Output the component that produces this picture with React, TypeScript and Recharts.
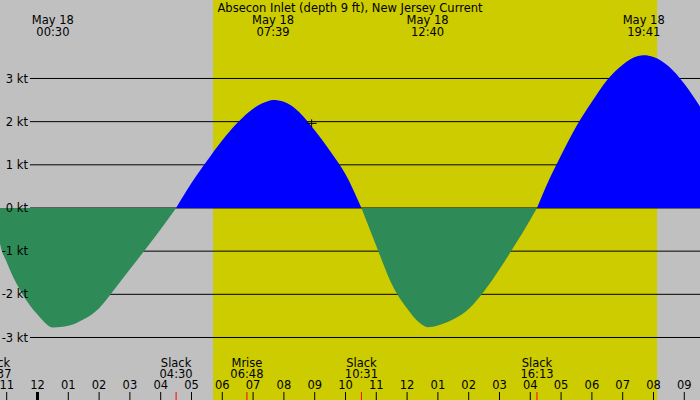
import { AreaChart, Area, XAxis, YAxis, ReferenceArea, ReferenceLine, ReferenceDot } from "recharts";

const TITLE = "Absecon Inlet (depth 9 ft), New Jersey Current";

// hours after midnight May 18 (negative = late May 17), current in knots
const hours = [
  -1.383, -1.2175, -1.0, -0.5, 0, 0.5, 1.0, 1.5, 2.0, 2.5, 3.0, 3.5, 4.0,
  4.5, 5.0, 5.5, 6.0, 6.5, 7.0, 7.5, 7.65, 8.0, 8.5, 9.0, 9.5, 10.0,
  10.517, 11.0, 11.5, 12.0, 12.5, 12.667, 13.0, 13.5, 14.0, 14.5, 15.0, 15.5, 16.0,
  16.217, 16.5, 17.0, 17.5, 18.0, 18.5, 19.0, 19.5, 19.683, 20.0, 20.5, 21.0, 21.51,
];
const knots = [
  0, -0.82, -1.25, -1.98, -2.47, -2.77, -2.73, -2.58, -2.32, -1.88, -1.42, -0.96, -0.49,
  0, 0.58, 1.09, 1.57, 1.98, 2.3, 2.48, 2.5, 2.46, 2.22, 1.8, 1.32, 0.78,
  0, -0.88, -1.76, -2.33, -2.71, -2.76, -2.72, -2.58, -2.34, -1.93, -1.42, -0.86, -0.27,
  0, 0.48, 1.22, 1.9, 2.46, 2.97, 3.32, 3.52, 3.54, 3.5, 3.28, 2.88, 2.35,
];

const hourTicks = [-1, 0, 1, 2, 3, 4, 5, 6, 7, 8, 9, 10, 11, 12, 13, 14, 15, 16, 17, 18, 19, 20, 21];
const hourLabels = ["11", "12", "01", "02", "03", "04", "05", "06", "07", "08", "09", "10", "11", "12", "01", "02", "03", "04", "05", "06", "07", "08", "09"];

const knotTicks = [3, 2, 1, 0, -1, -2, -3];

const eventTimes = [-1.383, 4.5, 6.8, 10.517, 16.217];
const eventNames = ["Slack", "Slack", "Mrise", "Slack", "Slack"];
const eventClock = ["22:37", "04:30", "06:48", "10:31", "16:13"];

const peakTimes = [0.5, 7.65, 12.667, 19.683];
const peakDates = ["May 18", "May 18", "May 18", "May 18"];
const peakClock = ["00:30", "07:39", "12:40", "19:41"];

const sunrise = 5.7;
const sunset = 20.117;
const nowHour = 8.9;
const nowKnots = 1.96;

const X_MIN = -1.2175;
const X_MAX = 21.51;
const Y_MIN = -4.448;
const Y_MAX = 4.818;
const GRID_START = -0.2435;
const FONT = 11.5;

const data = hours.map((h, i) => ({
  h,
  flood: knots[i] >= 0 ? knots[i] : null,
  ebb: knots[i] <= 0 ? knots[i] : null,
}));

function HourTick(props: any) {
  const { x, payload } = props;
  const i = hourTicks.indexOf(payload.value);
  return (
    <g>
      <line x1={x} x2={x} y1={392} y2={400} stroke="#000" strokeWidth={payload.value === 0 ? 3 : 1} />
      <text x={x} y={389} textAnchor="middle" fontSize={FONT} fill="#000">
        {hourLabels[i]}
      </text>
    </g>
  );
}

function EventTick(props: any) {
  const { x, payload } = props;
  const i = eventTimes.indexOf(payload.value);
  return (
    <g>
      <line x1={x} x2={x} y1={392} y2={400} stroke="#ff0000" strokeWidth={1} />
      <text x={x} y={366.5} textAnchor="middle" fontSize={FONT} fill="#000">
        {eventNames[i]}
      </text>
      <text x={x} y={378} textAnchor="middle" fontSize={FONT} fill="#000">
        {eventClock[i]}
      </text>
    </g>
  );
}

function PeakTick(props: any) {
  const { x, payload } = props;
  const i = peakTimes.indexOf(payload.value);
  return (
    <g>
      <text x={x} y={24} textAnchor="middle" fontSize={FONT} fill="#000">
        {peakDates[i]}
      </text>
      <text x={x} y={36} textAnchor="middle" fontSize={FONT} fill="#000">
        {peakClock[i]}
      </text>
    </g>
  );
}

function NowMark(props: any) {
  const { cx, cy } = props;
  return (
    <g>
      <line x1={cx - 5} x2={cx + 5} y1={cy} y2={cy} stroke="#000" />
      <line x1={cx} x2={cx} y1={cy - 4} y2={cy + 4} stroke="#000" />
    </g>
  );
}

export default function App() {
  return (
    <div style={{ position: "relative", width: 700, height: 400, background: "#c0c0c0", fontFamily: "DejaVu Sans" }}>
      <style>{"body{margin:0}"}</style>
      <AreaChart width={700} height={400} data={data} margin={{ top: -1, right: 0, bottom: -2, left: 0 }}>
        <XAxis
          xAxisId="h"
          dataKey="h"
          type="number"
          domain={[X_MIN, X_MAX]}
          allowDataOverflow
          ticks={hourTicks}
          interval={0}
          height={1}
          axisLine={false}
          tickLine={false}
          tick={HourTick}
        />
        <XAxis
          xAxisId="ev"
          dataKey="h"
          type="number"
          domain={[X_MIN, X_MAX]}
          allowDataOverflow
          ticks={eventTimes}
          interval={0}
          height={1}
          axisLine={false}
          tickLine={false}
          tick={EventTick}
        />
        <XAxis
          xAxisId="pk"
          dataKey="h"
          orientation="top"
          type="number"
          domain={[X_MIN, X_MAX]}
          allowDataOverflow
          ticks={peakTimes}
          interval={0}
          height={1}
          axisLine={false}
          tickLine={false}
          tick={PeakTick}
        />
        <YAxis type="number" domain={[Y_MIN, Y_MAX]} allowDataOverflow hide />
        <ReferenceArea
          xAxisId="h"
          x1={sunrise}
          x2={sunset}
          y1={Y_MIN}
          y2={Y_MAX}
          fill="#cccc00"
          fillOpacity={1}
          stroke="none"
          zIndex={-100}
        />
        {knotTicks.map((v) => (
          <ReferenceLine
            key={v}
            xAxisId="h"
            segment={[
              { x: GRID_START, y: v },
              { x: X_MAX, y: v },
            ]}
            stroke="#000"
            strokeWidth={1}
            zIndex={-50}
            label={{ value: `${v} kt`, position: "left", offset: 2, fill: "#000", fontSize: FONT }}
          />
        ))}
        <Area
          xAxisId="h"
          type="monotone"
          dataKey="ebb"
          fill="#2e8b57"
          fillOpacity={1}
          stroke="none"
          baseValue={0}
          isAnimationActive={false}
        />
        <Area
          xAxisId="h"
          type="monotone"
          dataKey="flood"
          fill="#0000ff"
          fillOpacity={1}
          stroke="none"
          baseValue={0}
          isAnimationActive={false}
        />
        <ReferenceDot xAxisId="h" x={nowHour} y={nowKnots} shape={NowMark} />
      </AreaChart>
      <svg width={700} height={20} style={{ position: "absolute", left: 0, top: 0, pointerEvents: "none" }}>
        <text x={350} y={11.7} textAnchor="middle" fontSize={FONT} fill="#000" fontFamily="DejaVu Sans">
          {TITLE}
        </text>
      </svg>
    </div>
  );
}
